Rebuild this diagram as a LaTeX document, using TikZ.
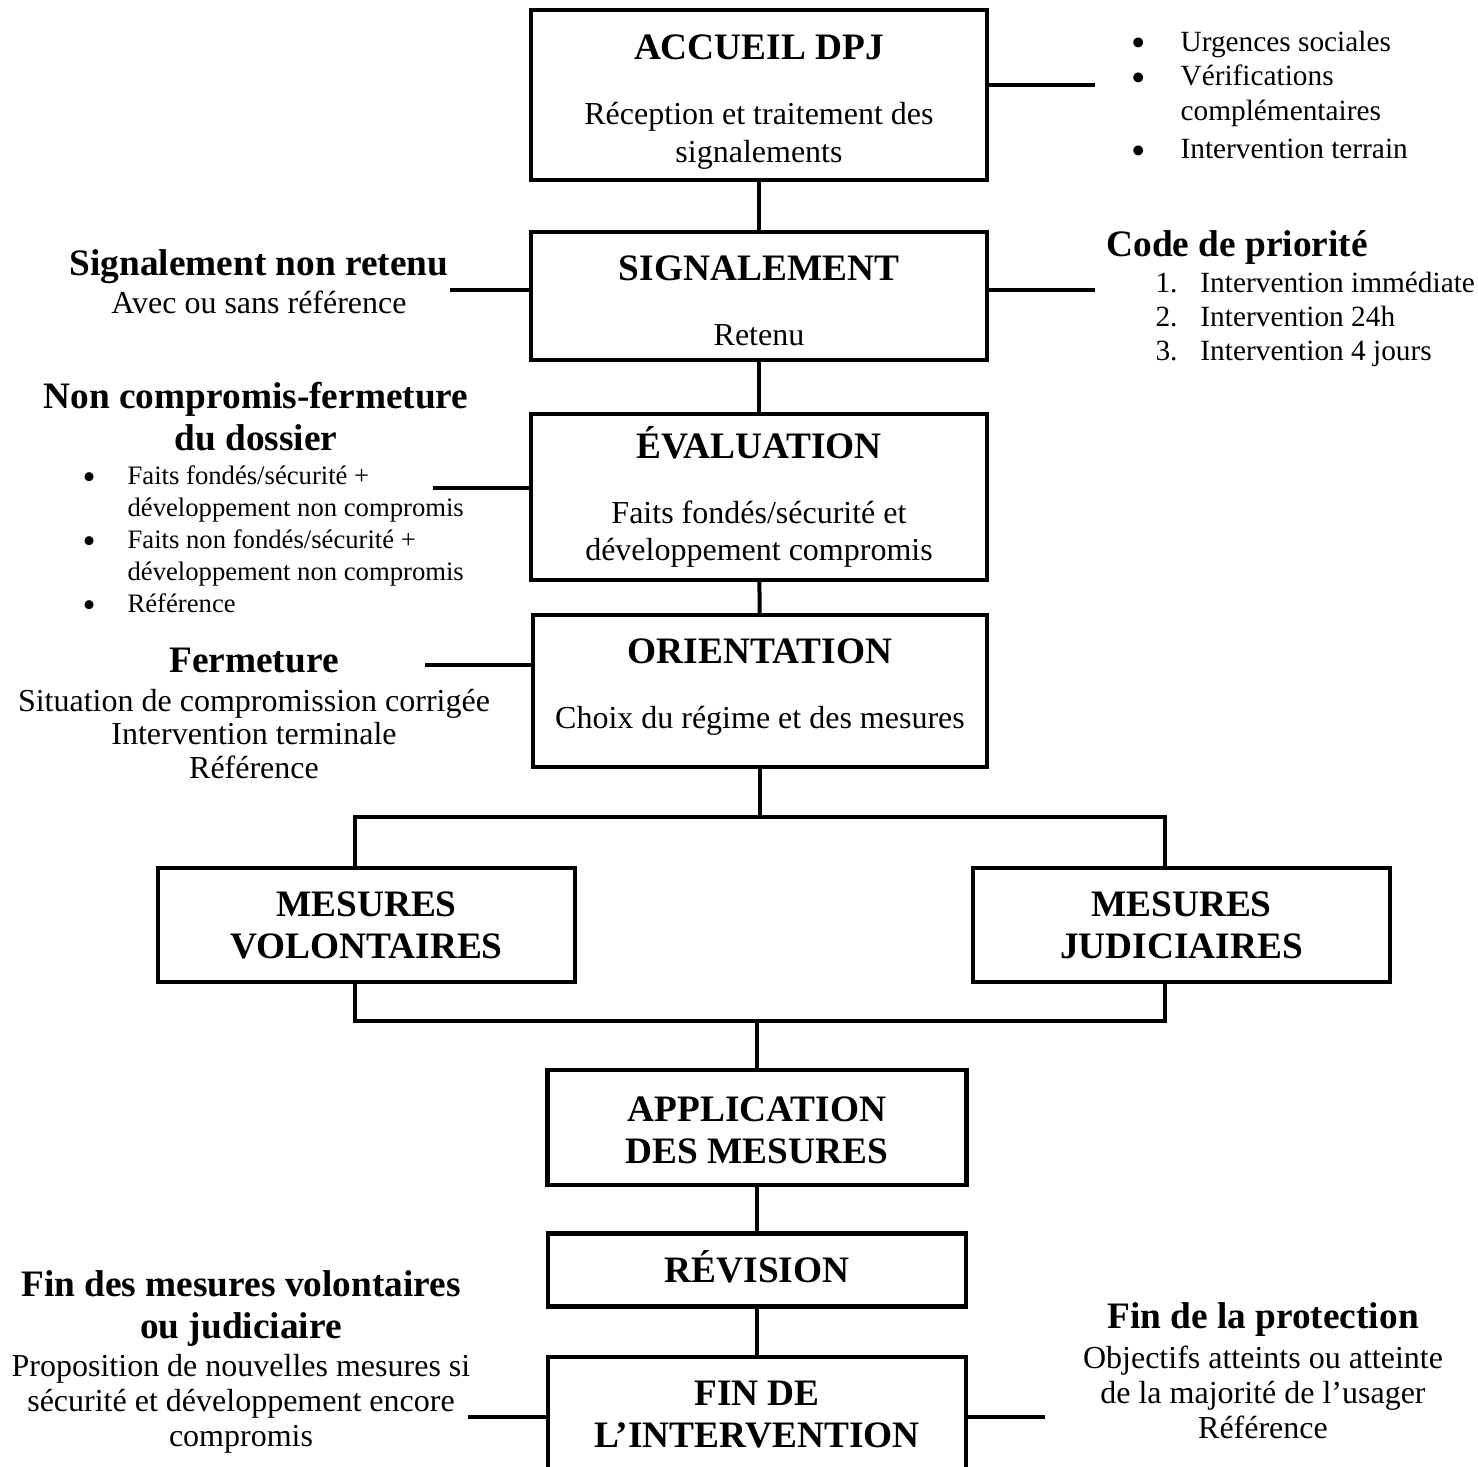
\documentclass[tikz,border=0pt]{standalone}
\usepackage{fontspec}
\usepackage{graphicx}
\setmainfont{Liberation Serif}

\newcommand{\titre}[1]{{\bfseries\fontsize{14}{16}\selectfont #1}}
\newcommand{\puce}{\raisebox{-2.2pt}{\scalebox{1.4}{\textbullet}}}
\newcommand{\haut}[1]{\rule{0pt}{#1}}
\newcommand{\bas}[1]{\rule[-#1]{0pt}{#1}}

\begin{document}
\begin{tikzpicture}[x=0.375pt,y=-0.375pt,
  etape/.style={draw,line width=1.6pt,align=center,inner sep=0pt,font=\fontsize{12}{14}\selectfont},
  etapetitre/.style={etape,font=\bfseries\fontsize{14}{15.75}\selectfont},
  taille/.style 2 args={minimum width=#1*0.375pt,minimum height=#2*0.375pt},
  lien/.style={line width=1.5pt},
  note/.style={align=center,inner sep=0pt,anchor=base}]
\useasboundingbox (0,0) rectangle (1478,1466);

% etapes du processus
\node[etape,taille={456}{170}] (accueil) at (759,95)
  {\haut{14.5pt}\titre{ACCUEIL DPJ}\\[10.5pt] Réception et traitement des\\ signalements};
\node[etape,taille={456}{128}] (signal) at (759,296)
  {\haut{13.1pt}\titre{SIGNALEMENT}\\[10.5pt] Retenu};
\node[etape,taille={456}{166}] (eval) at (759,497)
  {\titre{ÉVALUATION}\\[10.5pt] Faits fondés/sécurité et\\ développement compromis};
\node[etape,taille={454}{152}] (orient) at (760,691)
  {\titre{ORIENTATION}\\[10.5pt] Choix du régime et des mesures\bas{5.6pt}};
\node[etapetitre,taille={417}{114}] (vol) at (366.5,925) {MESURES\\ VOLONTAIRES};
\node[etapetitre,taille={417}{114}] (jud) at (1181.5,925) {MESURES\\ JUDICIAIRES};
\node[etapetitre,taille={419}{115}] (appli) at (757,1127.5) {\haut{11.5pt}APPLICATION\\ DES MESURES};
\node[etapetitre,taille={418}{73}] (revis) at (757,1270) {RÉVISION\bas{3pt}};
\node[etapetitre,taille={418}{120}] (fin) at (757,1417) {FIN DE\\ L’INTERVENTION\bas{2.3pt}};

% textes lateraux
\node[inner sep=0pt,anchor=base west,font=\fontsize{11}{13.1}\selectfont] (urgences) at (1131,51)
  {\begin{tabular}[t]{@{}l@{\hspace{13pt}}l@{}}
   \puce & Urgences sociales\\
   \puce & Vérifications\\
         & complémentaires\\[1pt]
   \puce & Intervention terrain
   \end{tabular}};
\node[inner sep=0pt,anchor=base west] (codeprio) at (1106,256) {\titre{Code de priorité}};
\node[inner sep=0pt,anchor=base west,font=\fontsize{11}{12.75}\selectfont] (priorites) at (1155,292)
  {\begin{tabular}[t]{@{}l@{\hspace{8.6pt}}l@{}}
   1. & Intervention immédiate\\
   2. & Intervention 24h\\
   3. & Intervention 4 jours
   \end{tabular}};
\node[note,font=\fontsize{12}{13.9}\selectfont] (nonretenu) at (259,313)
  {\titre{Signalement non retenu}\\ Avec ou sans référence};
\node[note,font=\bfseries\fontsize{14}{15.4}\selectfont] (noncomp) at (256,450)
  {Non compromis-fermeture\\ du dossier};
\node[inner sep=0pt,anchor=base west,font=\fontsize{10}{12}\selectfont] (ncliste) at (82,484)
  {\begin{tabular}[t]{@{}l@{\hspace{12pt}}l@{}}
   \puce & Faits fondés/sécurité +\\
         & développement non compromis\\
   \puce & Faits non fondés/sécurité +\\
         & développement non compromis\\
   \puce & Référence
   \end{tabular}};
\node[note,font=\fontsize{12}{12.4}\selectfont] (fermeture) at (254,778)
  {\titre{Fermeture}\\[2.2pt] Situation de compromission corrigée\\ Intervention terminale\\ Référence};
\node[note,font=\fontsize{12}{13.1}\selectfont] (finmesures) at (241,1446)
  {\titre{Fin des mesures volontaires}\\[2.65pt] \titre{ou judiciaire}\\[1.15pt]
   Proposition de nouvelles mesures si\\ sécurité et développement encore\\ compromis};
\node[note,font=\fontsize{12}{13.1}\selectfont] (protection) at (1263,1438)
  {\titre{Fin de la protection}\\[1.9pt] Objectifs atteints ou atteinte\\ de la majorité de l’usager\\ Référence};

% bouts libres des traits
\coordinate (bout-urg) at (1095,85);
\coordinate (bout-nr) at (450,290);
\coordinate (bout-prio) at (1095,290);
\coordinate (bout-nc) at (433,488);
\coordinate (bout-ferm) at (425,665);
\coordinate (bout-finm) at (468,1417);
\coordinate (bout-prot) at (1045,1417);
\coordinate (branche-g) at (355,817);
\coordinate (branche-d) at (1165,817);
\coordinate (jonction-g) at (355,1021);
\coordinate (jonction-d) at (1165,1021);

% liens verticaux
\draw[lien] (accueil) -- (signal);
\draw[lien] (signal) -- (eval);
\draw[lien] (eval) -- (orient);
\draw[lien] (orient.south) -- (orient.south |- branche-g);
\draw[lien] (branche-g |- vol.north) -- (branche-g) -- (branche-d) -- (branche-d |- jud.north);
\draw[lien] (branche-g |- vol.south) -- (jonction-g) -- (jonction-d) -- (jonction-d |- jud.south);
\draw[lien] (appli.north |- jonction-g) -- (appli.north);
\draw[lien] (appli) -- (revis);
\draw[lien] (revis) -- (fin);

% liens lateraux
\draw[lien] (accueil.east |- bout-urg) -- (bout-urg);
\draw[lien] (signal.west |- bout-nr) -- (bout-nr);
\draw[lien] (signal.east |- bout-prio) -- (bout-prio);
\draw[lien] (eval.west |- bout-nc) -- (bout-nc);
\draw[lien] (orient.west |- bout-ferm) -- (bout-ferm);
\draw[lien] (fin.west |- bout-finm) -- (bout-finm);
\draw[lien] (fin.east |- bout-prot) -- (bout-prot);
\end{tikzpicture}
\end{document}
